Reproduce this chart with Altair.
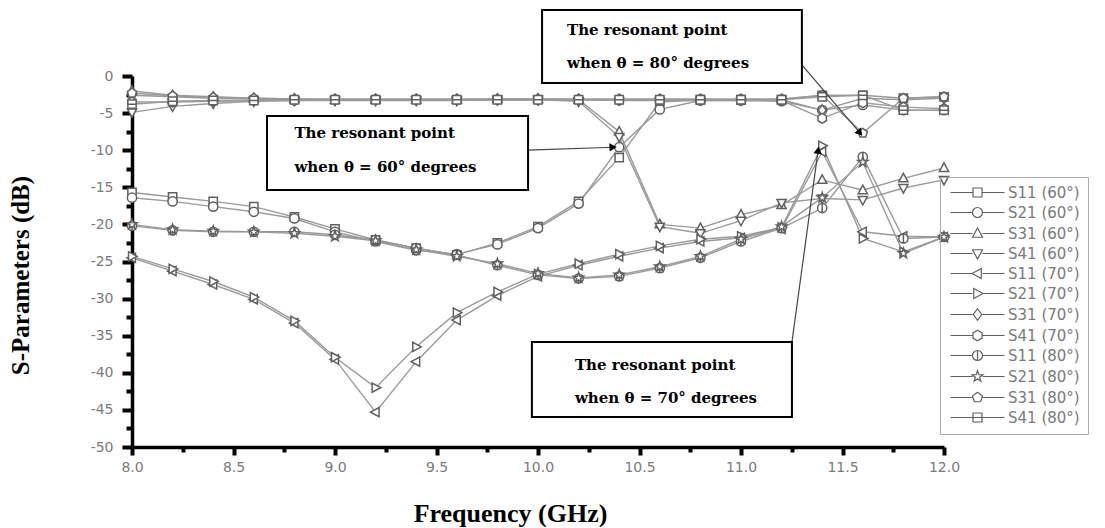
import math
import altair as alt
import pandas as pd

# ---------------- data ----------------
FREQ = [8.0, 8.2, 8.4, 8.6, 8.8, 9.0, 9.2, 9.4, 9.6, 9.8, 10.0,
        10.2, 10.4, 10.6, 10.8, 11.0, 11.2, 11.4, 11.6, 11.8, 12.0]

SERIES = ["S11 (60°)", "S21 (60°)", "S31 (60°)", "S41 (60°)",
          "S11 (70°)", "S21 (70°)", "S31 (70°)", "S41 (70°)",
          "S11 (80°)", "S21 (80°)", "S31 (80°)", "S41 (80°)"]

S11_60 = [-15.7, -16.3, -16.9, -17.6, -19.0, -20.6, -22.1, -23.2, -24.1, -22.5, -20.3,
          -16.9, -11.0, -3.5, -3.2, -3.2, -3.2, -2.6, -2.6, -3.0, -2.8]
S21_60 = [-16.4, -16.9, -17.6, -18.3, -19.2, -21.0, -22.3, -23.5, -24.0, -22.7, -20.5,
          -17.2, -9.6, -4.5, -3.3, -3.3, -3.4, -4.6, -3.9, -4.6, -4.6]
S31_60 = [-2.0, -2.6, -2.8, -3.0, -3.1, -3.2, -3.2, -3.2, -3.2, -3.1, -3.1,
          -3.2, -7.5, -20.0, -20.5, -18.7, -17.4, -14.0, -15.4, -13.8, -12.4]
S41_60 = [-4.9, -4.1, -3.7, -3.4, -3.3, -3.3, -3.3, -3.3, -3.3, -3.2, -3.2,
          -3.4, -8.2, -20.3, -21.2, -19.5, -17.1, -16.5, -16.7, -15.1, -14.0]
S11_70 = [-24.5, -26.3, -28.1, -30.1, -33.3, -38.2, -45.3, -38.5, -32.9, -29.6, -27.0,
          -25.5, -24.3, -23.2, -22.3, -21.8, -20.6, -10.2, -21.0, -21.6, -21.7]
S21_70 = [-24.3, -26.0, -27.7, -29.8, -33.0, -37.9, -42.0, -36.5, -31.9, -29.1, -26.7,
          -25.3, -24.0, -22.9, -22.0, -21.6, -20.4, -9.4, -21.9, -23.7, -21.7]
S31_70 = [-2.6, -2.8, -3.0, -3.1, -3.2, -3.2, -3.2, -3.2, -3.2, -3.2, -3.2,
          -3.2, -3.2, -3.2, -3.2, -3.2, -3.2, -4.6, -3.0, -3.2, -3.0]
S41_70 = [-3.5, -3.5, -3.4, -3.3, -3.3, -3.2, -3.2, -3.2, -3.2, -3.2, -3.2,
          -3.2, -3.3, -3.3, -3.3, -3.3, -3.3, -5.7, -3.6, -4.2, -4.4]
S11_80 = [-20.2, -20.8, -21.0, -21.0, -21.0, -21.4, -22.1, -23.2, -24.1, -25.5, -26.8,
          -27.3, -27.0, -25.9, -24.5, -22.3, -20.5, -17.8, -10.9, -21.9, -21.7]
S21_80 = [-20.0, -20.7, -20.9, -21.0, -21.2, -21.6, -22.2, -23.4, -24.3, -25.3, -26.6,
          -27.2, -26.8, -25.7, -24.3, -22.0, -20.3, -16.4, -11.6, -23.9, -21.7]
S31_80 = [-2.3, -2.7, -2.9, -3.0, -3.1, -3.1, -3.1, -3.1, -3.1, -3.1, -3.1,
          -3.1, -3.1, -3.1, -3.1, -3.1, -3.1, -2.6, -7.7, -3.0, -2.8]
S41_80 = [-3.8, -3.4, -3.3, -3.3, -3.2, -3.2, -3.2, -3.2, -3.2, -3.2, -3.2,
          -3.2, -3.2, -3.2, -3.2, -3.2, -3.2, -2.8, -2.6, -4.6, -4.6]

VALUES = [S11_60, S21_60, S31_60, S41_60, S11_70, S21_70, S31_70, S41_70,
          S11_80, S21_80, S31_80, S41_80]

X_TICKS = [8.0, 8.25, 8.5, 8.75, 9.0, 9.25, 9.5, 9.75, 10.0, 10.25, 10.5,
           10.75, 11.0, 11.25, 11.5, 11.75, 12.0]
Y_TICKS = [0, -2.5, -5, -7.5, -10, -12.5, -15, -17.5, -20, -22.5, -25, -27.5,
           -30, -32.5, -35, -37.5, -40, -42.5, -45, -47.5, -50]

# annotations (data coordinates)
ANN_LINE1 = ["The resonant point", "The resonant point", "The resonant point"]
ANN_LINE2 = ["when  \u03b8 = 60° degrees", "when  \u03b8 = 80° degrees", "when  \u03b8 = 70° degrees"]
BOX_X1 = [8.665, 10.02, 9.97]
BOX_X2 = [9.951, 11.30, 11.251]
BOX_Y1 = [-5.39, 8.89, -35.85]
BOX_Y2 = [-15.36, -0.94, -45.96]
TEXT_X = [8.80, 10.143, 10.182]
TEXT_Y1 = [-7.68, 6.2, -38.95]
TEXT_Y2 = [-12.26, 1.75, -43.4]
ARROW_X1 = [9.951, 11.30, 11.251]
ARROW_Y1 = [-10.0, 1.5, -35.85]
ARROW_X2 = [10.37, 11.586, 11.38]
ARROW_Y2 = [-9.6, -7.68, -10.0]

# ---------------- layout / style ----------------
W, H = 812, 371
PAD = {"left": 124, "top": 68, "right": 153, "bottom": 80}
LINE_GRAY = "#9a9a9a"
MARK_GRAY = "#606060"
LABEL_GRAY = "#7a7a7a"


def poly_path(n, r=1.0, start=-90.0):
    pts = []
    for k in range(n):
        a = math.radians(start + 360.0 * k / n)
        pts.append((r * math.cos(a), r * math.sin(a)))
    return "M" + "L".join(f"{x:.3f},{y:.3f}" for x, y in pts) + "Z"


def star_path(ro=1.15, ri=0.45):
    pts = []
    for k in range(10):
        a = math.radians(-90 + 36 * k)
        r = ro if k % 2 == 0 else ri
        pts.append((r * math.cos(a), r * math.sin(a)))
    return "M" + "L".join(f"{x:.3f},{y:.3f}" for x, y in pts) + "Z"


CIRCLE = "M-1,0A1,1 0 1,1 1,0A1,1 0 1,1 -1,0Z"
MARKERS = [
    "M-0.9,-0.9H0.9V0.9H-0.9Z",                 # square
    CIRCLE,                                      # circle
    "M0,-1.1L1,0.75L-1,0.75Z",                   # triangle up
    "M0,1.1L1,-0.75L-1,-0.75Z",                  # triangle down
    "M-1.1,0L0.75,-1L0.75,1Z",                   # triangle left
    "M1.1,0L-0.75,-1L-0.75,1Z",                  # triangle right
    "M0,-1.15L0.85,0L0,1.15L-0.85,0Z",           # diamond
    poly_path(6, 1.05, -90),                     # hexagon
    CIRCLE + "M0,-1V1",                          # circle with bar
    star_path(),                                 # star
    poly_path(5, 1.05, -90),                     # pentagon
    "M-0.9,-0.9H0.9V0.9H-0.9ZM-0.9,0H0.9",       # square with bar
]
LEGEND_SYMS = ["M-5.4,0H-1M1,0H5.4" + m for m in MARKERS]

rows = []
for name, vals in zip(SERIES, VALUES):
    for f, v in zip(FREQ, vals):
        rows.append({"s": name, "f": f, "v": v})
df = pd.DataFrame(rows)

ann_text = pd.DataFrame(
    [{"x": tx, "y": y1, "t": l1} for tx, y1, l1 in zip(TEXT_X, TEXT_Y1, ANN_LINE1)]
    + [{"x": tx, "y": y2, "t": l2} for tx, y2, l2 in zip(TEXT_X, TEXT_Y2, ANN_LINE2)]
)
ann_box = pd.DataFrame({"x1": BOX_X1, "x2": BOX_X2, "y1": BOX_Y1, "y2": BOX_Y2})
sx, sy = W / 4.0, H / 50.0
angles = []
for x1, y1, x2, y2 in zip(ARROW_X1, ARROW_Y1, ARROW_X2, ARROW_Y2):
    a = math.degrees(math.atan2(-(y2 - y1) * sy, (x2 - x1) * sx))
    angles.append(a % 360)
ann_arrow = pd.DataFrame({"x1": ARROW_X1, "y1": ARROW_Y1, "x2": ARROW_X2,
                          "y2": ARROW_Y2, "ang": angles})

xscale = alt.Scale(domain=[8, 12], nice=False, zero=False)
yscale = alt.Scale(domain=[-50, 0], nice=False, zero=False)

xaxis = alt.Axis(
    values=X_TICKS,
    labelExpr="datum.value % 0.5 === 0 ? format(datum.value, '.1f') : ''",
    tickSize={"condition": {"test": "datum.value % 0.5 !== 0", "value": 5}, "value": 8},
    tickWidth=4, tickColor="black", domainColor="black", domainWidth=3.5,
    labelColor=LABEL_GRAY, labelFont="DejaVu Sans", labelFontSize=14,
    labelPadding=5, labelFlush=False, labelOverlap=False, grid=False,
    title="Frequency (GHz)", titleFont="Liberation Serif", titleFontSize=26,
    titleFontWeight="bold", titleColor="black", titleX=378, titleY=66,
    titleAlign="center", titleBaseline="middle",
)
yaxis = alt.Axis(
    values=Y_TICKS,
    labelExpr="datum.value % 5 === 0 ? '' + datum.value : ''",
    tickSize={"condition": {"test": "datum.value % 5 !== 0", "value": 6}, "value": 10},
    tickWidth=4, tickColor="black", domainColor="black", domainWidth=3.5,
    labelColor=LABEL_GRAY, labelFont="DejaVu Sans", labelFontSize=14,
    labelPadding=9, labelOverlap=False, grid=False,
    title="S-Parameters (dB)", titleFont="Liberation Serif", titleFontSize=25,
    titleFontWeight="bold", titleColor="black", titleX=-112, titleY=199,
    titleAlign="center", titleBaseline="middle", titleAngle=270,
)


def X(field):
    return alt.X(field, scale=xscale, axis=xaxis)


def Y(field):
    return alt.Y(field, scale=yscale, axis=yaxis)


base = alt.Chart(df)
lines = base.mark_line(stroke=LINE_GRAY, strokeWidth=1.4).encode(
    x=X("f:Q"), y=Y("v:Q"), detail="s:N",
)
points = base.mark_point(filled=True, fill="white", stroke=MARK_GRAY,
                         strokeWidth=1.5, size=85, opacity=1).encode(
    x=X("f:Q"), y=Y("v:Q"),
    shape=alt.Shape("s:N", scale=alt.Scale(domain=SERIES, range=MARKERS), legend=None),
)
legend_layer = base.mark_point(opacity=0).encode(
    x=X("f:Q"), y=Y("v:Q"),
    shape=alt.Shape(
        "s:N",
        scale=alt.Scale(domain=SERIES, range=LEGEND_SYMS),
        legend=alt.Legend(
            title=None, orient="none", legendX=808, legendY=101,
            strokeColor="#aaaaaa", padding=8, rowPadding=4,
            symbolSize=100, symbolOffset=22, labelOffset=23,
            symbolStrokeColor=MARK_GRAY, symbolFillColor="white",
            symbolStrokeWidth=1.2, symbolOpacity=1,
            labelFont="DejaVu Sans", labelFontSize=15, labelColor=LABEL_GRAY,
        ),
    ),
)

arrows = alt.Chart(ann_arrow).mark_rule(stroke="#444444", strokeWidth=1.2).encode(
    x=X("x1:Q"), y=Y("y1:Q"), x2="x2:Q", y2="y2:Q"
)
heads = alt.Chart(ann_arrow).mark_point(shape="triangle-right", filled=True,
                                         color="black", size=70, opacity=1).encode(
    x=X("x2:Q"), y=Y("y2:Q"),
    angle=alt.Angle("ang:Q", scale=None),
)
boxes = alt.Chart(ann_box).mark_rect(fill="white", stroke="black", strokeWidth=2).encode(
    x=X("x1:Q"), x2="x2:Q", y=Y("y1:Q"), y2="y2:Q"
)
texts = alt.Chart(ann_text).mark_text(align="left", baseline="middle",
                                      font="DejaVu Serif", fontWeight="bold",
                                      fontSize=15, color="black").encode(
    x=X("x:Q"), y=Y("y:Q"), text="t:N"
)

chart = (
    alt.layer(lines, points, legend_layer, arrows, boxes, texts, heads)
    .resolve_scale(shape="independent")
    .properties(width=W, height=H, padding=PAD,
                autosize=alt.AutoSizeParams(type="none"), background="white")
    .configure_view(stroke=None)
)

chart.save("out.html", embed_options={"renderer": "svg", "actions": False})
